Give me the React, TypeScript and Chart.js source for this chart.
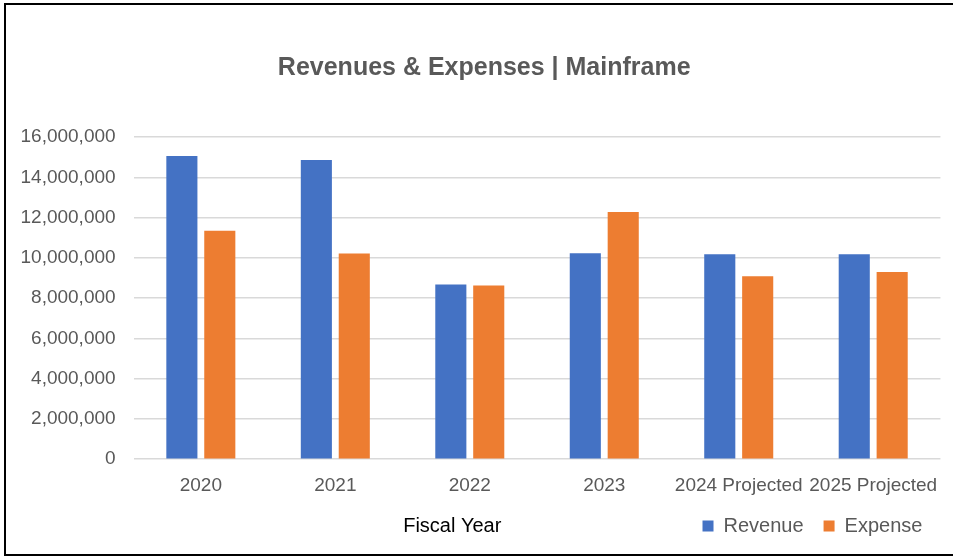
import React, { useEffect, useRef } from "react";
import { Chart, registerables } from "chart.js";

Chart.register(...registerables);

const categories = ["2020", "2021", "2022", "2023", "2024 Projected", "2025 Projected"];
const revenue = [15060000, 14860000, 8670000, 10230000, 10180000, 10180000];
const expense = [11340000, 10210000, 8620000, 12270000, 9090000, 9290000];
const titleText = "Revenues & Expenses | Mainframe";
const xAxisTitle = "Fiscal Year";
const yTicks = { min: 0, max: 16000000, step: 2000000 };

const FONT = "'Liberation Sans', Arial, sans-serif";
const GRAY = "#595959";

const framePlugin = {
  id: "frame",
  afterLayout(chart: any) {
    // centre the title over the whole frame rather than the padded box
    const t = chart.titleBlock;
    if (t) {
      t.left += 13;
      t.right += 13;
    }
  },
  beforeDraw(chart: any) {
    const { ctx, width, height } = chart;
    ctx.save();
    ctx.fillStyle = "#ffffff";
    ctx.fillRect(0, 0, width, height);
    ctx.restore();
  },
  afterDraw(chart: any) {
    const { ctx, chartArea, legend } = chart;
    ctx.save();
    ctx.strokeStyle = "#000000";
    ctx.lineWidth = 2;
    ctx.strokeRect(5, 4, chart.width + 10, chart.height - 6);
    // x axis title
    let y = chartArea.bottom + 66;
    if (legend && legend.legendHitBoxes && legend.legendHitBoxes.length) {
      const hb = legend.legendHitBoxes[0];
      y = hb.top + hb.height / 2;
    }
    ctx.fillStyle = "#000000";
    ctx.font = `20px ${FONT}`;
    ctx.textAlign = "center";
    ctx.textBaseline = "middle";
    ctx.fillText(xAxisTitle, chartArea.left + chartArea.width * 0.395, y);
    ctx.restore();
  },
};

export default function App() {
  const ref = useRef<HTMLCanvasElement | null>(null);
  useEffect(() => {
    if (!ref.current) return;
    const chart = new Chart(ref.current, {
      type: "bar",
      data: {
        labels: categories,
        datasets: [
          {
            label: "Revenue",
            data: revenue,
            backgroundColor: "#4472C4",
            categoryPercentage: 0.564,
            barPercentage: 0.82,
          },
          {
            label: "Expense",
            data: expense,
            backgroundColor: "#ED7D31",
            categoryPercentage: 0.564,
            barPercentage: 0.82,
          },
        ],
      },
      options: {
        responsive: false,
        animation: false,
        devicePixelRatio: 1,
        layout: { padding: { left: 0, right: 10.6, top: 0, bottom: 11 } },
        plugins: {
          title: {
            display: true,
            text: titleText,
            color: GRAY,
            font: { family: FONT, size: 25, weight: "bold", lineHeight: 1.2 },
            padding: { top: 53, bottom: 54 },
          },
          legend: {
            display: true,
            position: "bottom",
            align: "end",
            labels: {
              boxWidth: 11,
              boxHeight: 11,
              padding: 20,
              color: GRAY,
              font: { family: FONT, size: 20 },
            },
          },
          tooltip: { enabled: false },
        },
        scales: {
          x: {
            grid: { display: false, drawTicks: false },
            border: { display: false },
            afterFit(scale: any) {
              scale.height = 36.8;
            },
            ticks: {
              color: GRAY,
              font: { family: FONT, size: 19 },
              padding: 15,
              maxRotation: 0,
              minRotation: 0,
              autoSkip: false,
            },
          },
          y: {
            min: yTicks.min,
            max: yTicks.max,
            border: { display: false },
            grid: { color: "#d9d9d9", lineWidth: 1.5, drawTicks: false },
            afterFit(scale: any) {
              scale.width = 133.6;
            },
            ticks: {
              stepSize: yTicks.step,
              color: GRAY,
              font: { family: FONT, size: 19 },
              padding: 18,
              callback: (v: any) => Number(v).toLocaleString("en-US"),
            },
          },
        },
      },
      plugins: [framePlugin],
    });
    return () => chart.destroy();
  }, []);
  return (
    <div style={{ position: "fixed", left: 0, top: 0, width: 953, height: 557, background: "#fff" }}>
      <canvas ref={ref} width={953} height={557} style={{ display: "block" }} />
    </div>
  );
}
